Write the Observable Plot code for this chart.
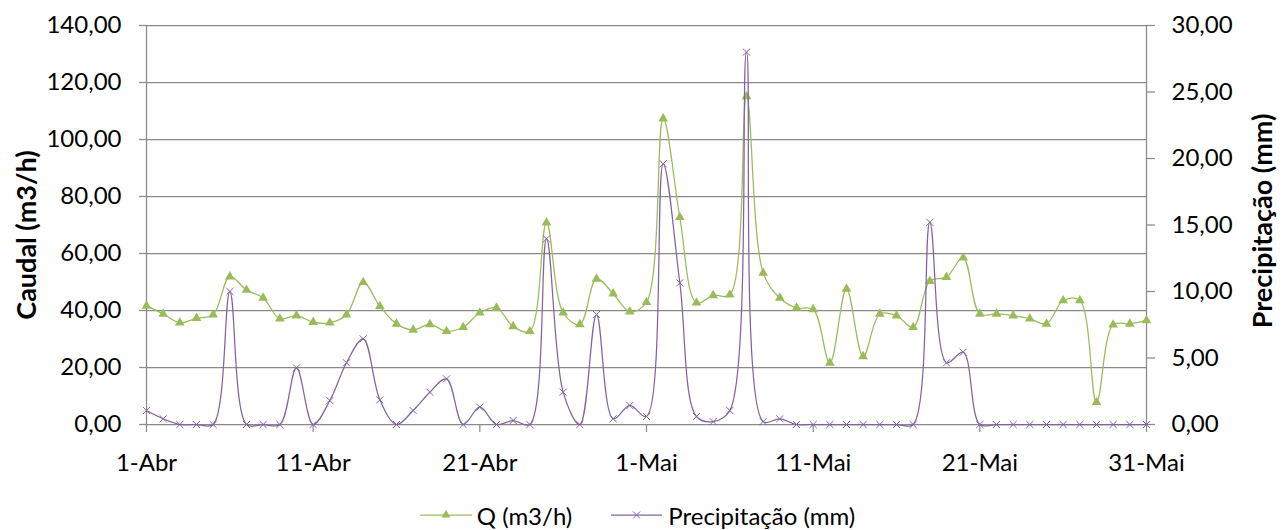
<!DOCTYPE html>
<html><head><meta charset="utf-8">
<script src="https://cdn.jsdelivr.net/npm/d3@7"></script>
<script src="https://cdn.jsdelivr.net/npm/@observablehq/plot@0.6"></script>
<style>
body{margin:0;background:#fff;font-family:Lato,sans-serif;}
#chart svg{display:block;}
#legend{display:flex;justify-content:center;align-items:center;height:30px;margin-top:20px;font-size:24px;color:#000;font-family:Lato,sans-serif;padding-right:10px;}
#legend .item{display:flex;align-items:center;}
#legend svg{display:block;}
</style></head>
<body>
<div id="chart"></div>
<div id="legend"></div>
<script>
// Categories: daily dates 1-Abr .. 31-Mai
const dates = d3.utcDay.range(new Date(Date.UTC(2015,3,1)), new Date(Date.UTC(2015,5,1)));
const tickLabels = ["1-Abr","11-Abr","21-Abr","1-Mai","11-Mai","21-Mai","31-Mai"];
const qTicks = [0,20,40,60,80,100,120,140];
const pTicks = [0,5,10,15,20,25,30];
// Series: Q (m3/h)
const qValues = [41.6,38.8,35.7,37.3,38.5,51.9,47.2,44.4,37.1,38.2,
  35.9,35.7,38.5,49.9,41.5,35.3,33.2,35.1,32.7,34.1,
  39.2,40.9,34.4,32.7,70.8,39.2,35.1,51.1,45.9,39.6,
  42.9,107.3,72.7,42.7,45.3,45.5,115.1,53.2,44.4,40.9,
  40.4,21.6,47.6,23.9,38.8,38.2,34.1,50.3,51.7,58.5,
  38.8,38.8,38.2,37.1,35.3,43.5,43.5,7.8,35.0,35.3,36.5];
// Series: Precipitação (mm)
const pValues = [1.05,0.43,0,0,0,10.0,0,0,0,4.26,
  0,1.8,4.64,6.44,1.85,0,1.05,2.43,3.43,0,
  1.3,0,0.3,0,13.96,2.43,0,8.27,0.43,1.43,
  0.6,19.6,10.65,0.6,0.22,1.05,28.0,0.22,0.43,0,
  0,0,0,0,0,0,0,15.2,4.64,5.44,
  0,0,0,0,0,0,0,0,0,0,0];

const green = "#9bbb59", purple = "#8064a2", grid = "#8a8a8a";
const k = 140/30;
const data = dates.map((d,i)=>({date:d, q:qValues[i], p:pValues[i]*k}));
const xTicks = dates.filter((d,i)=>i%10===0);
const fmt = v => v.toFixed(2).replace(".", ",");

const chart = Plot.plot({
  width:1285, height:480,
  marginLeft:146, marginRight:139, marginTop:25, marginBottom:56,
  style:{fontFamily:"Lato, sans-serif", fontSize:"24px", color:"#000", background:"#fff", overflow:"visible"},
  x:{type:"utc", domain:[dates[0], dates[dates.length-1]]},
  y:{domain:[0,140]},
  marks:[
    Plot.ruleY(qTicks, {stroke:grid, strokeWidth:1.25}),
    Plot.ruleX([dates[0], dates[dates.length-1]], {stroke:grid, strokeWidth:1.25}),
    Plot.axisY({ticks:qTicks, tickFormat:fmt, tickSize:7, tickPadding:18, stroke:grid, strokeWidth:1.25, label:null}),
    Plot.axisY({anchor:"right", ticks:pTicks.map(v=>v*k), tickFormat:d=>fmt(d/k), tickSize:8, tickPadding:17, stroke:grid, strokeWidth:1.25, label:null}),
    Plot.axisX({ticks:xTicks, tickFormat:d=>tickLabels[xTicks.findIndex(t=>+t===+d)], tickSize:8, tickPadding:21, stroke:grid, strokeWidth:1.25, label:null}),
    Plot.text(["Caudal (m3/h)"], {frameAnchor:"left", textAnchor:"middle", rotate:-90, dx:-119, dy:10, fontWeight:"bold", fontSize:27}),
    Plot.text(["Precipitação (mm)"], {frameAnchor:"right", textAnchor:"middle", rotate:-90, dx:117, dy:-4, fontWeight:"bold", fontSize:27}),
    Plot.line(data, {x:"date", y:"q", stroke:green, strokeWidth:1.25, curve:"catmull-rom"}),
    Plot.dot(data, {x:"date", y:"q", symbol:"triangle", r:3.6, fill:green, stroke:"none"}),
    Plot.line(data, {x:"date", y:"p", stroke:purple, strokeWidth:1.25, curve:"catmull-rom"}),
    Plot.dot(data, {x:"date", y:"p", symbol:"times", r:3.3, stroke:purple, strokeWidth:1})
  ]
});
document.getElementById("chart").appendChild(chart);

// Legend
const legend = document.getElementById("legend");
function item(color, kind, text, lineW, gapText, marginLeft){
  const div = document.createElement("div");
  div.className = "item";
  div.style.marginLeft = marginLeft + "px";
  const ns = "http://www.w3.org/2000/svg";
  const svg = document.createElementNS(ns, "svg");
  svg.setAttribute("width", lineW); svg.setAttribute("height", 20);
  const ln = document.createElementNS(ns, "line");
  ln.setAttribute("x1",0); ln.setAttribute("x2",lineW); ln.setAttribute("y1",10); ln.setAttribute("y2",10);
  ln.setAttribute("stroke",color); ln.setAttribute("stroke-width",1.25);
  svg.appendChild(ln);
  const sym = document.createElementNS(ns, "path");
  const s = d3.symbol(kind === "triangle" ? d3.symbolTriangle : d3.symbolTimes, Math.PI*3.3*3.3)();
  sym.setAttribute("d", s);
  sym.setAttribute("transform", `translate(${lineW/2},10)`);
  if (kind === "triangle") { sym.setAttribute("fill", color); }
  else { sym.setAttribute("fill","none"); sym.setAttribute("stroke", color); sym.setAttribute("stroke-width",1); }
  svg.appendChild(sym);
  div.appendChild(svg);
  const span = document.createElement("span");
  span.textContent = text;
  span.style.marginLeft = gapText + "px";
  div.appendChild(span);
  return div;
}
legend.appendChild(item(green, "triangle", "Q (m3/h)", 52, 5, 0));
legend.appendChild(item(purple, "times", "Precipitação (mm)", 51, 6, 39));
</script>
</body></html>
